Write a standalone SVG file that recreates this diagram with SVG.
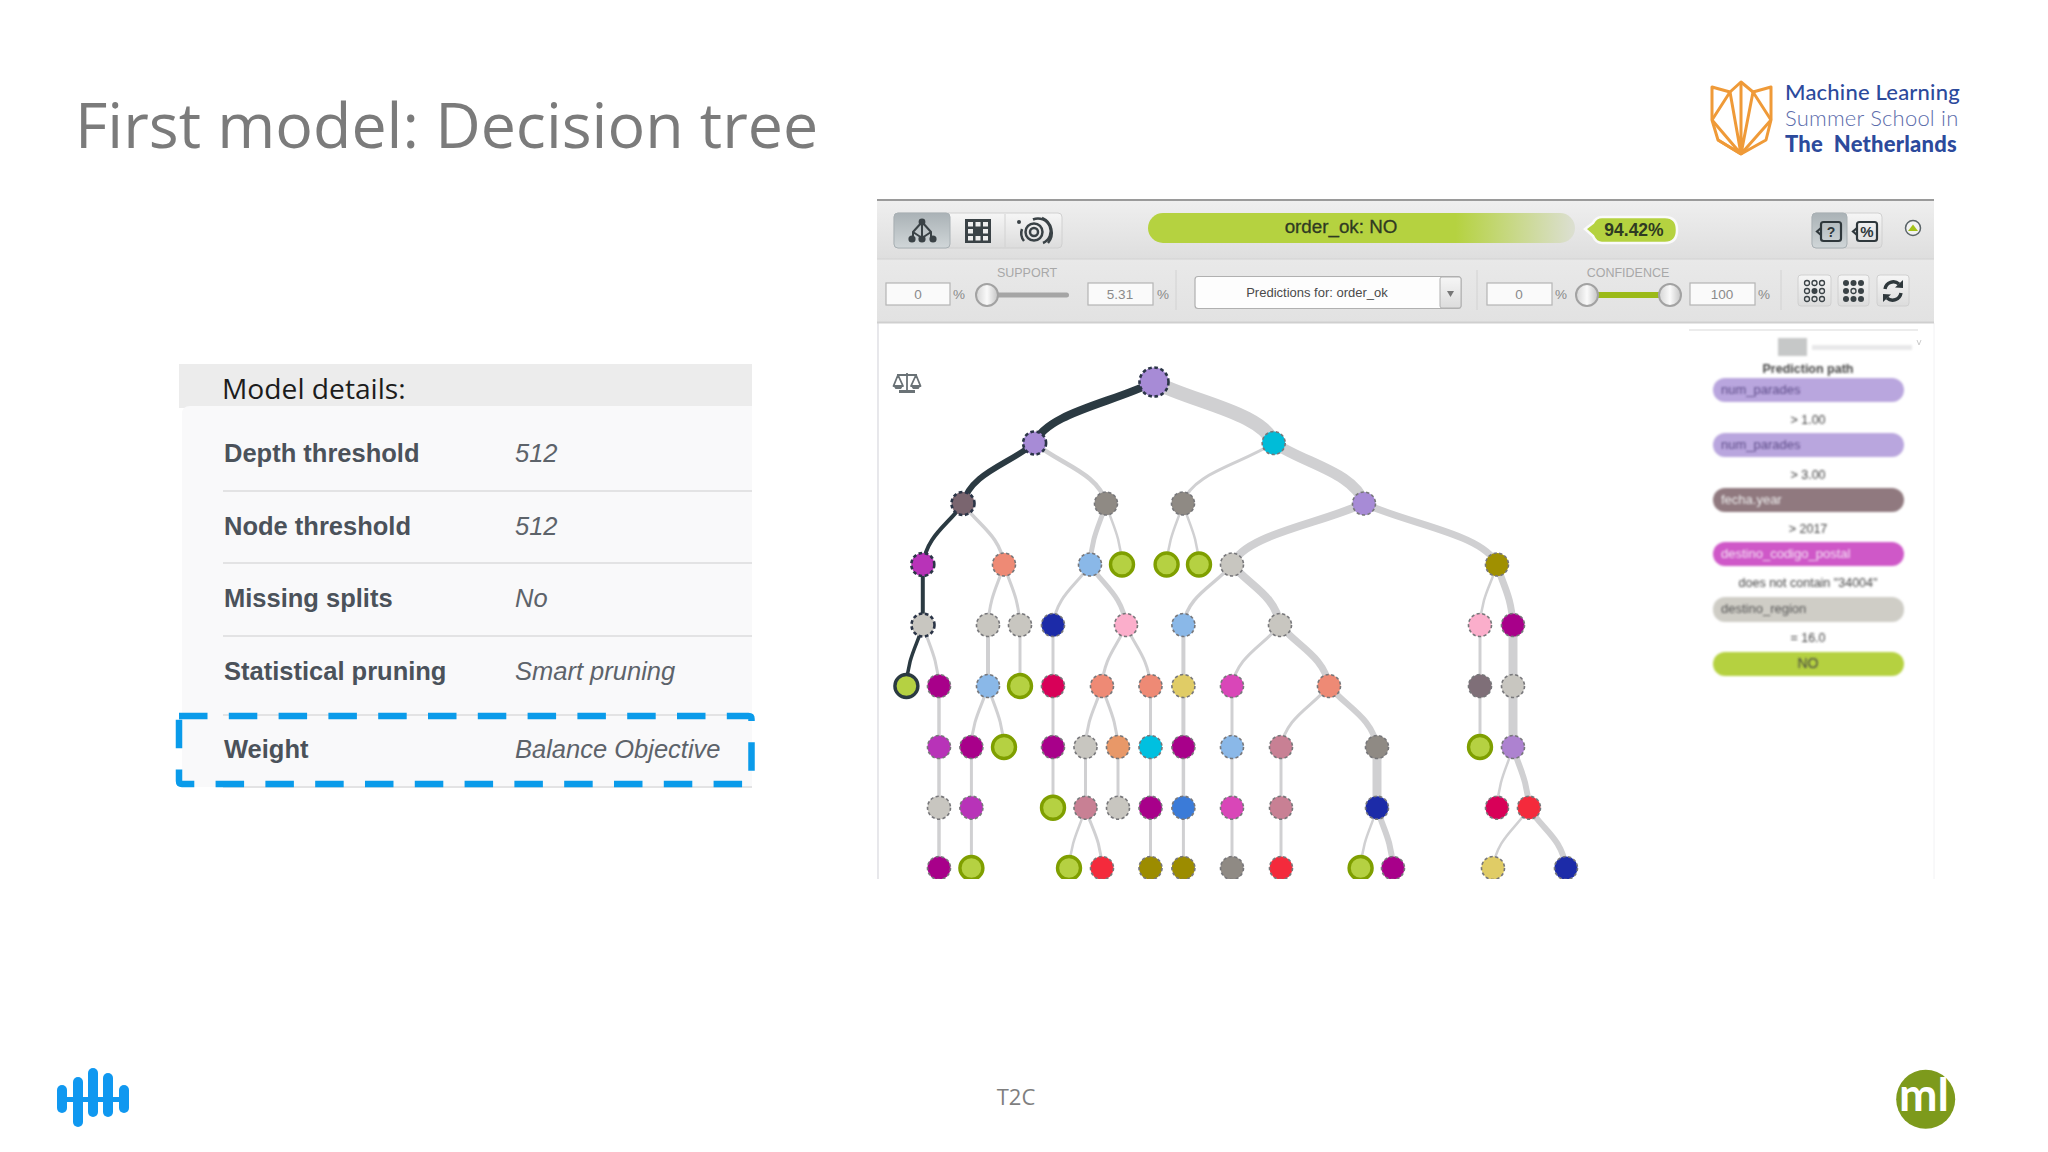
<svg xmlns="http://www.w3.org/2000/svg" width="2048" height="1152" viewBox="0 0 2048 1152">
<style>
.os{font-family:"Open Sans","Noto Sans",sans-serif}
.ar{font-family:"Liberation Sans",Arial,sans-serif}
.lb{font-family:Lato,"Noto Sans",sans-serif}
.rk{font-size:25.5px;font-weight:bold;fill:#4b525a}
.rv{font-size:25.5px;font-style:italic;fill:#5d636a}
.sep{stroke:#e3e3e4;stroke-width:2}
.inp{fill:#fafafa;stroke:#b4b4b4;stroke-width:1.2}
.tl{font-size:12.5px;fill:#a8a8a8;text-anchor:middle}
.ti{font-size:13.5px;fill:#8a8a8a;text-anchor:middle}
.dv{stroke:#d2d2d2;stroke-width:1}
.btn{fill:url(#btn);stroke:#d0d0d0;stroke-width:1}
.on{fill:url(#btnon);stroke:#a8b0b4;stroke-width:1}
.knob{fill:url(#knob);stroke:#a2a2a2;stroke-width:2}
.ic{fill:#3a4246}
.ico{fill:none;stroke:#3a4246;stroke-width:2.5}
.e{fill:none;stroke:#d0d0d2}
.d{fill:none;stroke:#2b3a42}
.n{stroke:#77777a;stroke-width:1.6;stroke-dasharray:3.2 2.4}
.s{stroke:#2b3547;stroke-width:2.6;stroke-dasharray:3.6 2.6}
.leaf{fill:#b5d142;stroke:#7f9f00;stroke-width:3.4}
.bt{font-size:12.5px;fill:#444;text-anchor:middle}
.bp{font-size:13px}
</style>
<defs>
<linearGradient id="tb1" x1="0" y1="0" x2="0" y2="1"><stop offset="0" stop-color="#efefef"/><stop offset="1" stop-color="#dedede"/></linearGradient>
<linearGradient id="tb2" x1="0" y1="0" x2="0" y2="1"><stop offset="0" stop-color="#e9e9e9"/><stop offset="1" stop-color="#e2e2e2"/></linearGradient>
<linearGradient id="btn" x1="0" y1="0" x2="0" y2="1"><stop offset="0" stop-color="#f6f6f6"/><stop offset="1" stop-color="#dcdcdc"/></linearGradient>
<linearGradient id="btnon" x1="0" y1="0" x2="0" y2="1"><stop offset="0" stop-color="#aab2b6"/><stop offset="1" stop-color="#d0d6d8"/></linearGradient>
<linearGradient id="knob" x1="0" y1="0" x2="1" y2="0"><stop offset="0" stop-color="#d4d4d4"/><stop offset=".5" stop-color="#fafafa"/><stop offset="1" stop-color="#c4c4c4"/></linearGradient>
<linearGradient id="bar" x1="0" y1="0" x2="1" y2="0"><stop offset="0" stop-color="#b5d240"/><stop offset=".72" stop-color="#b5d240"/><stop offset="1" stop-color="#dcdfd2"/></linearGradient>
<filter id="blur" x="-10%" y="-30%" width="120%" height="160%"><feGaussianBlur stdDeviation="1.1"/></filter>
<filter id="blurt" x="-10%" y="-50%" width="120%" height="200%"><feGaussianBlur stdDeviation="1"/></filter>
<clipPath id="tc"><rect x="878" y="323" width="1056" height="556"/></clipPath>
</defs>
<rect width="2048" height="1152" fill="#fff"/>

<text id="title" class="os" x="75" y="148" font-size="62.7" fill="#7b7b7b">First model: Decision tree</text>

<g id="mlss-logo">
<g fill="none" stroke="#ef9a38" stroke-width="3" stroke-linejoin="round">
<path d="M1712 87L1730 92L1741 82L1753 92L1771 87V120L1766 140L1741 154L1718 140L1712 120Z"/>
<path d="M1741 82V154M1730 92L1741 154M1753 92L1741 154M1712 120L1730 92M1771 120L1753 92M1712 120L1741 154M1771 120L1741 154M1718 140L1741 154"/>
</g>
<text class="lb" x="1785" y="100" font-size="22" font-weight="500" letter-spacing=".2" fill="#2c4a9c">Machine Learning</text>
<text class="lb" x="1785" y="126" font-size="22" font-weight="300" letter-spacing=".2" fill="#5b6cab">Summer School in</text>
<text class="lb" x="1785" y="152" font-size="22" font-weight="900" letter-spacing=".2" fill="#2c4a9c" xml:space="preserve">The  Netherlands</text>
</g>

<g id="model-details">
<rect x="179" y="364" width="573" height="44" fill="#ececec"/>
<path d="M752 406H190Q182 406 182 414V787H752Z" fill="#f9f9fa"/>
<text class="os" x="222" y="399" font-size="28.2" fill="#1c1c1c">Model details:</text>
<line class="sep" x1="223" y1="491" x2="752" y2="491"/>
<line class="sep" x1="223" y1="563" x2="752" y2="563"/>
<line class="sep" x1="223" y1="636" x2="752" y2="636"/>
<line class="sep" x1="223" y1="715" x2="752" y2="715"/>
<line class="sep" x1="223" y1="787" x2="752" y2="787"/>
<text class="ar rk" x="224" y="462">Depth threshold</text><text class="ar rv" x="515" y="462">512</text>
<text class="ar rk" x="224" y="535">Node threshold</text><text class="ar rv" x="515" y="535">512</text>
<text class="ar rk" x="224" y="607">Missing splits</text><text class="ar rv" x="515" y="607">No</text>
<text class="ar rk" x="224" y="680">Statistical pruning</text><text class="ar rv" x="515" y="680">Smart pruning</text>
<text class="ar rk" x="224" y="758">Weight</text><text class="ar rv" x="515" y="758">Balance Objective</text>
</g>
<path id="highlight" d="M179 716H748.500Q751.500 716 751.500 719V781Q751.500 784 748.500 784H182Q179 784 179 781V716" fill="none" stroke="#0a9bea" stroke-width="6.500" stroke-dasharray="28.500 21.300"/>

<g id="app-frame">
<line x1="878" y1="323" x2="878" y2="879" stroke="#e2e2e6" stroke-width="1.600"/>
<line x1="1934" y1="323" x2="1934" y2="879" stroke="#f2f2f4" stroke-width="1"/>
<rect x="877" y="200" width="1057" height="59" fill="url(#tb1)"/>
<rect x="877" y="259" width="1057" height="63" fill="url(#tb2)"/>
<line x1="877" y1="200" x2="1934" y2="200" stroke="#9a9a9a" stroke-width="2"/>
<line x1="877" y1="259" x2="1934" y2="259" stroke="#d2d2d2" stroke-width="1"/>
<line x1="877" y1="322.500" x2="1934" y2="322.500" stroke="#cfcfcf" stroke-width="2"/>
</g>

<g id="view-buttons">
<rect class="btn" x="894" y="213" width="168" height="35" rx="4"/>
<rect class="on" x="894" y="213" width="56" height="35" rx="4"/>
<line class="dv" x1="1005" y1="214" x2="1005" y2="247"/>
<path d="M922 222L913 232V238M922 222L931 232V238M922 222V238M913 232L922 238M931 232L922 238" fill="none" stroke="#3a4246" stroke-width="2"/>
<circle class="ic" cx="922" cy="222" r="3.400"/><circle class="ic" cx="912" cy="239" r="3.600"/><circle class="ic" cx="922" cy="239" r="3.600"/><circle class="ic" cx="933" cy="239" r="3.600"/>
<path class="ic" d="M965 219H991V243H965Z"/>
<g fill="#eee"><rect x="968" y="222" width="5" height="4.500"/><rect x="975.500" y="222" width="5" height="4.500"/><rect x="983" y="222" width="5" height="4.500"/><rect x="968" y="229" width="5" height="4.500"/><rect x="983" y="229" width="5" height="4.500"/><rect x="968" y="236" width="5" height="4.500"/><rect x="975.500" y="236" width="5" height="4.500"/><rect x="983" y="236" width="5" height="4.500"/></g>
<circle class="ico" cx="1034" cy="232" r="4"/><circle class="ico" cx="1034" cy="232" r="8.500"/>
<path class="ico" d="M1033 219.500A12.500 12.500 0 0 1 1043 243M1024 241A12.500 12.500 0 0 1 1022 229"/>
<path class="ico" d="M1042 218A16 16 0 0 1 1048 243"/>
<circle class="ic" cx="1019" cy="222" r="2"/>
</g>

<g id="prediction-bar">
<rect x="1148" y="213" width="427" height="30" rx="15" fill="url(#bar)"/>
<text class="ar" x="1341" y="233" font-size="18.800" fill="#2f3a22" stroke="#2f3a22" stroke-width=".3" text-anchor="middle">order_ok: NO</text>
<path d="M1585 229L1593 223Q1596 217 1602 217H1665Q1677 217 1677 230Q1677 243 1665 243H1602Q1596 243 1593 236Z" fill="#b5d240" stroke="#fafafa" stroke-width="2.500"/>
<text class="ar" x="1634" y="236" font-size="17.500" font-weight="bold" fill="#2f3a22" text-anchor="middle">94.42%</text>
</g>

<g id="format-buttons">
<rect class="btn" x="1812" y="213" width="70" height="35" rx="4"/>
<rect class="on" x="1812" y="213" width="35" height="35" rx="4"/>
<rect x="1821" y="222" width="20" height="19" rx="2.500" fill="none" stroke="#2f383c" stroke-width="2.200"/>
<path d="M1821 228L1817 231.500L1821 235" fill="none" stroke="#2f383c" stroke-width="2.200"/>
<text class="ar" x="1831" y="237" font-size="14" font-weight="bold" fill="#2f383c" text-anchor="middle">?</text>
<rect x="1857" y="222" width="20" height="19" rx="2.500" fill="none" stroke="#2f383c" stroke-width="2.200"/>
<path d="M1857 228L1853 231.500L1857 235" fill="none" stroke="#2f383c" stroke-width="2.200"/>
<text class="ar" x="1867" y="237" font-size="15" font-weight="bold" fill="#2f383c" text-anchor="middle">%</text>
<circle cx="1913" cy="228" r="7.500" fill="#f2f2f2" stroke="#5a6468" stroke-width="1.500"/>
<path d="M1908 231L1913 224.500L1918 231Z" fill="#a4c21a"/>
</g>

<g id="support-filter">
<text class="ar tl" x="1027" y="277">SUPPORT</text>
<rect class="inp" x="886" y="283" width="64" height="22"/><text class="ar ti" x="918" y="299">0</text>
<text class="ar ti" x="959" y="299">%</text>
<rect x="985" y="292.500" width="84" height="5" rx="2.500" fill="#a5a5a5"/>
<circle class="knob" cx="987" cy="295" r="11"/>
<rect class="inp" x="1088" y="283" width="65" height="22"/><text class="ar ti" x="1120" y="299">5.31</text>
<text class="ar ti" x="1163" y="299">%</text>
<line class="dv" x1="1176" y1="270" x2="1176" y2="310"/>
</g>

<g id="predictions-select">
<rect x="1195" y="276.500" width="266" height="32" rx="3" fill="#fdfdfd" stroke="#b0b0b0" stroke-width="1.200"/>
<rect x="1440" y="277" width="21" height="31" rx="2" fill="url(#btn)" stroke="#b0b0b0" stroke-width="1"/>
<path d="M1447 291H1454L1450.500 297Z" fill="#777"/>
<text class="ar" x="1317" y="297" font-size="13" fill="#4a4a4a" text-anchor="middle">Predictions for: order_ok</text>
</g>

<g id="confidence-filter">
<line class="dv" x1="1477" y1="270" x2="1477" y2="310"/>
<text class="ar tl" x="1628" y="277">CONFIDENCE</text>
<rect class="inp" x="1487" y="283" width="65" height="22"/><text class="ar ti" x="1519" y="299">0</text>
<text class="ar ti" x="1561" y="299">%</text>
<rect x="1590" y="292" width="78" height="6" fill="#9bba18"/>
<circle class="knob" cx="1587" cy="295" r="11"/>
<circle class="knob" cx="1670" cy="295" r="11"/>
<rect class="inp" x="1690" y="283" width="65" height="22"/><text class="ar ti" x="1722" y="299">100</text>
<text class="ar ti" x="1764" y="299">%</text>
<line class="dv" x1="1781" y1="270" x2="1781" y2="310"/>
</g>

<g id="tool-buttons">
<rect class="btn" x="1798" y="275" width="33" height="31" rx="3"/>
<rect class="btn" x="1838" y="275" width="31" height="31" rx="3"/>
<rect class="btn" x="1877" y="275" width="32" height="31" rx="3"/>
<g fill="none" stroke="#3a4246" stroke-width="1.300"><circle cx="1807" cy="283" r="2.500"/><circle cx="1814.500" cy="283" r="2.500"/><circle cx="1822" cy="283" r="2.500"/><circle cx="1807" cy="291" r="2.500"/><circle cx="1822" cy="291" r="2.500"/><circle cx="1807" cy="299" r="2.500"/><circle cx="1814.500" cy="299" r="2.500"/><circle cx="1822" cy="299" r="2.500"/></g>
<circle class="ic" cx="1814.500" cy="291" r="3"/>
<g class="ic"><circle cx="1846" cy="283" r="3"/><circle cx="1853.500" cy="283" r="3"/><circle cx="1861" cy="283" r="3"/><circle cx="1846" cy="291" r="3"/><circle cx="1861" cy="291" r="3"/><circle cx="1846" cy="299" r="3"/><circle cx="1853.500" cy="299" r="3"/><circle cx="1861" cy="299" r="3"/></g>
<circle cx="1853.500" cy="291" r="2.500" fill="none" stroke="#3a4246" stroke-width="1.300"/>
<path d="M1885 289A8.500 8.500 0 0 1 1899 284M1901 293A8.500 8.500 0 0 1 1887 298" fill="none" stroke="#2f383c" stroke-width="3.400"/>
<path d="M1895 287.500L1903 288V280ZM1891 294.500L1883 294V302Z" fill="#2f383c"/>
</g>

<g id="balance-icon" fill="none" stroke="#6a7276" stroke-width="1.800">
<path d="M907 373V390M897 375H917M898 375L893.500 386H903ZM916 375L911 386H920.500Z" stroke-linejoin="round"/>
<path d="M893.500 386H903L901 389H895.500ZM911 386H920.500L918.500 389H913ZM899 390H915V393H899Z" fill="#6a7276" stroke="none"/>
</g>

<g id="prediction-path">
<line x1="1689" y1="330" x2="1918" y2="330" stroke="#e6e6e6" stroke-width="1.500"/>
<rect x="1778" y="338" width="29" height="18" fill="#c6c8c8" filter="url(#blurt)"/>
<rect x="1812" y="345" width="100" height="5" fill="#e8e8ea" filter="url(#blur)"/>
<path d="M1917 340L1919 345L1921 340" fill="none" stroke="#ccc" stroke-width="1"/>
<g filter="url(#blur)">
<rect x="1713" y="378" width="191" height="24" rx="12" fill="#b9a6de"/>
<rect x="1713" y="433" width="191" height="24" rx="12" fill="#b9a6de"/>
<rect x="1713" y="488" width="191" height="24" rx="12" fill="#90797f"/>
<rect x="1713" y="542" width="191" height="24" rx="12" fill="#cf58c8"/>
<rect x="1713" y="597" width="191" height="25" rx="12" fill="#cfcdc6"/>
<rect x="1713" y="652" width="191" height="24" rx="12" fill="#b5d140"/>
</g>
<g class="ar" filter="url(#blurt)">
<text class="bt" x="1808" y="373" font-weight="bold">Prediction path</text>
<text class="bp" x="1721" y="394" fill="#5d4c88">num_parades</text>
<text class="bt" x="1808" y="424">&gt; 1.00</text>
<text class="bp" x="1721" y="449" fill="#5d4c88">num_parades</text>
<text class="bt" x="1808" y="479">&gt; 3.00</text>
<text class="bp" x="1721" y="504" fill="#eee">fecha.year</text>
<text class="bt" x="1808" y="533">&gt; 2017</text>
<text class="bp" x="1721" y="558" fill="#f6e6f6">destino_codigo_postal</text>
<text class="bt" x="1808" y="587">does not contain "34004"</text>
<text class="bp" x="1721" y="613" fill="#555">destino_region</text>
<text class="bt" x="1808" y="642">= 16.0</text>
<text class="bt" x="1808" y="668" style="font-size:14px">NO</text>
</g>
</g>

<g id="connectors" clip-path="url(#tc)">
<g class="e">
<path stroke-width="14" d="M1154 382c42 21 108 31 119.700 61"/>
<path stroke-width="4.500" d="M1034.600 443c25 21 64 30 71.400 60"/>
<path stroke-width="3" d="M1273.700 443c-32 21-82 30-90.700 60"/>
<path stroke-width="11" d="M1273.700 443c32 21 81 30 90.300 60"/>
<path stroke-width="3.500" d="M963 503.500c14 21 37 31 41 61"/>
<path stroke-width="5" d="M1106 503.500c-6 21-14 31-16 61"/>
<path stroke-width="2.500" d="M1106 503.500c6 21 14 31 16 61"/>
<path stroke-width="2.500" d="M1183 503.500c-6 21-14 31-16.400 61"/>
<path stroke-width="2.500" d="M1183 503.500c6 21 14 31 16 61"/>
<path stroke-width="8" d="M1364 503.500c-46 21-119 31-132 61"/>
<path stroke-width="7" d="M1364 503.500c46 21 120 31 133 61"/>
<path stroke-width="3" d="M1004 564.500c-6 21-14 30-16 60.500"/>
<path stroke-width="3" d="M1004 564.500c6 21 14 30 16 60.500"/>
<path stroke-width="3" d="M1090 564.500c-13 21-33 30-37 60.500"/>
<path stroke-width="5" d="M1090 564.500c13 21 32 30 36 60.500"/>
<path stroke-width="3.500" d="M1232 564.500c-17 21-44 30-49 60.500"/>
<path stroke-width="8" d="M1232 564.500c17 21 43 30 48 60.500"/>
<path stroke-width="2.500" d="M1497 564.500c-6 21-15 30-17 60.500"/>
<path stroke-width="7" d="M1497 564.500c6 21 14 30 16 60.500"/>
<path stroke-width="3" d="M923 625c6 21 14 31 16 61"/>
<path stroke-width="4" d="M988 625V686"/>
<path stroke-width="3" d="M1020 625V686"/>
<path stroke-width="3" d="M1053 625V686"/>
<path stroke-width="3" d="M1126 625c-8 21-22 31-24 61"/>
<path stroke-width="3" d="M1126 625c8 21 22 31 24.500 61"/>
<path stroke-width="4" d="M1183.400 625V686"/>
<path stroke-width="3" d="M1280 625c-17 21-43 31-48 61"/>
<path stroke-width="7" d="M1280 625c17 21 44 31 49 61"/>
<path stroke-width="3" d="M1480 625V686"/>
<path stroke-width="9" d="M1513 625V686"/>
<path stroke-width="3.500" d="M939 686V747"/>
<path stroke-width="3" d="M988 686c-6 21-15 31-17 61"/>
<path stroke-width="3" d="M988 686c6 21 14 31 16 61"/>
<path stroke-width="3" d="M1053 686V747"/>
<path stroke-width="3" d="M1102 686c-6 21-15 31-16.500 61"/>
<path stroke-width="3" d="M1102 686c6 21 14 31 16 61"/>
<path stroke-width="3" d="M1150.500 686V747"/>
<path stroke-width="4" d="M1183.400 686V747"/>
<path stroke-width="3" d="M1232 686V747"/>
<path stroke-width="3" d="M1329 686c-17 21-43 31-48 61"/>
<path stroke-width="6" d="M1329 686c17 21 43 31 48 61"/>
<path stroke-width="3" d="M1480 686V747"/>
<path stroke-width="9" d="M1513 686V747"/>
<path stroke-width="3.500" d="M939 747V808"/>
<path stroke-width="3" d="M971.400 747V808"/>
<path stroke-width="3" d="M1053 747V808"/>
<path stroke-width="3" d="M1085.500 747V808"/>
<path stroke-width="3" d="M1118 747V808"/>
<path stroke-width="3" d="M1150.500 747V808"/>
<path stroke-width="3.500" d="M1183.400 747V808"/>
<path stroke-width="3" d="M1232 747V808"/>
<path stroke-width="3" d="M1281 747V808"/>
<path stroke-width="9" d="M1377 747V808"/>
<path stroke-width="2.500" d="M1513 747c-6 21-14 31-16 61"/>
<path stroke-width="6" d="M1513 747c6 21 14 31 16 61"/>
<path stroke-width="3.500" d="M939 808V868"/>
<path stroke-width="3" d="M971.400 808V868"/>
<path stroke-width="2.500" d="M1085.500 808c-6 21-14 30-16.500 60"/>
<path stroke-width="3" d="M1085.500 808c6 21 15 30 16.500 60"/>
<path stroke-width="3" d="M1150.500 808V868"/>
<path stroke-width="3" d="M1183.400 808V868"/>
<path stroke-width="3" d="M1232 808V868"/>
<path stroke-width="3" d="M1281 808V868"/>
<path stroke-width="2.500" d="M1377 808c-6 21-14 30-16.400 60"/>
<path stroke-width="6" d="M1377 808c6 21 14 30 16 60"/>
<path stroke-width="2.500" d="M1529 808c-13 21-32 30-36 60"/>
<path stroke-width="6" d="M1529 808c13 21 33 30 37 60"/>
</g>
<g class="d">
<path stroke-width="8" d="M1154 382c-42 21-107 31-119.400 61"/>
<path stroke-width="6" d="M1034.600 443c-25 21-64 30-71.600 60.500"/>
<path stroke-width="4" d="M963 503.500c-14 21-36 31-40 61"/>
<path stroke-width="4" d="M922.800 564.500V625"/>
<path stroke-width="3.500" d="M923 625c-6 21-15 31-16.600 61"/>
</g>
</g>

<g id="tree-nodes" clip-path="url(#tc)">
<g id="n1"><circle class="s" cx="1154" cy="382" r="14.500" fill="#a78bd6"/></g>
<g id="n2"><circle class="s" cx="1034.600" cy="443" r="11.500" fill="#a78bd6"/></g>
<g id="n3"><circle class="n" cx="1273.700" cy="443" r="11.500" fill="#00bcd8"/></g>
<g id="n4"><circle class="s" cx="963" cy="503.500" r="11.500" fill="#7a656f"/></g>
<g id="n5"><circle class="n" cx="1106" cy="503.500" r="11.500" fill="#8f8a84"/></g>
<g id="n6"><circle class="n" cx="1183" cy="503.500" r="11.500" fill="#8f8a84"/></g>
<g id="n7"><circle class="n" cx="1364" cy="503.500" r="11.500" fill="#a78bd6"/></g>
<g id="n8"><circle class="s" cx="922.800" cy="564.500" r="11.500" fill="#b833b8"/></g>
<g id="n9"><circle class="n" cx="1004" cy="564.500" r="11.500" fill="#ee8a75"/></g>
<g id="n10"><circle class="n" cx="1090" cy="564.500" r="11.500" fill="#8ab8e8"/></g>
<g id="n11"><circle class="leaf" cx="1122" cy="564.500" r="11.500"/></g>
<g id="n12"><circle class="leaf" cx="1166.600" cy="564.500" r="11.500"/></g>
<g id="n13"><circle class="leaf" cx="1199" cy="564.500" r="11.500"/></g>
<g id="n14"><circle class="n" cx="1232" cy="564.500" r="11.500" fill="#c8c6c0"/></g>
<g id="n15"><circle class="n" cx="1497" cy="564.500" r="11.500" fill="#a09000"/></g>
<g id="n16"><circle class="s" cx="923" cy="625" r="11.500" fill="#c8c6c0"/></g>
<g id="n17"><circle class="n" cx="988" cy="625" r="11.500" fill="#c8c6c0"/></g>
<g id="n18"><circle class="n" cx="1020" cy="625" r="11.500" fill="#c8c6c0"/></g>
<g id="n19"><circle class="n" cx="1053" cy="625" r="11.500" fill="#1c2ba8"/></g>
<g id="n20"><circle class="n" cx="1126" cy="625" r="11.500" fill="#fbaecb"/></g>
<g id="n21"><circle class="n" cx="1183.400" cy="625" r="11.500" fill="#8ab8e8"/></g>
<g id="n22"><circle class="n" cx="1280" cy="625" r="11.500" fill="#c8c6c0"/></g>
<g id="n23"><circle class="n" cx="1480" cy="625" r="11.500" fill="#fbaecb"/></g>
<g id="n24"><circle class="n" cx="1513" cy="625" r="11.500" fill="#a8008a"/></g>
<g id="n25"><circle cx="906.400" cy="686" r="11.500" fill="#b5d142" stroke="#2b3a42" stroke-width="3.400"/></g>
<g id="n26"><circle class="n" cx="939" cy="686" r="11.500" fill="#a8008a"/></g>
<g id="n27"><circle class="n" cx="988" cy="686" r="11.500" fill="#8ab8e8"/></g>
<g id="n28"><circle class="leaf" cx="1020" cy="686" r="11.500"/></g>
<g id="n29"><circle class="n" cx="1053" cy="686" r="11.500" fill="#d80058"/></g>
<g id="n30"><circle class="n" cx="1102" cy="686" r="11.500" fill="#ee8a75"/></g>
<g id="n31"><circle class="n" cx="1150.500" cy="686" r="11.500" fill="#ee8a75"/></g>
<g id="n32"><circle class="n" cx="1183.400" cy="686" r="11.500" fill="#e0cc66"/></g>
<g id="n33"><circle class="n" cx="1232" cy="686" r="11.500" fill="#d946b8"/></g>
<g id="n34"><circle class="n" cx="1329" cy="686" r="11.500" fill="#ee8a75"/></g>
<g id="n35"><circle class="n" cx="1480" cy="686" r="11.500" fill="#7f6f78"/></g>
<g id="n36"><circle class="n" cx="1513" cy="686" r="11.500" fill="#c8c6c0"/></g>
<g id="n37"><circle class="n" cx="939" cy="747" r="11.500" fill="#b833b8"/></g>
<g id="n38"><circle class="n" cx="971.400" cy="747" r="11.500" fill="#a8008a"/></g>
<g id="n39"><circle class="leaf" cx="1004" cy="747" r="11.500"/></g>
<g id="n40"><circle class="n" cx="1053" cy="747" r="11.500" fill="#a8008a"/></g>
<g id="n41"><circle class="n" cx="1085.500" cy="747" r="11.500" fill="#c8c6c0"/></g>
<g id="n42"><circle class="n" cx="1118" cy="747" r="11.500" fill="#e89868"/></g>
<g id="n43"><circle class="n" cx="1150.500" cy="747" r="11.500" fill="#00c0e0"/></g>
<g id="n44"><circle class="n" cx="1183.400" cy="747" r="11.500" fill="#a8008a"/></g>
<g id="n45"><circle class="n" cx="1232" cy="747" r="11.500" fill="#8ab8e8"/></g>
<g id="n46"><circle class="n" cx="1281" cy="747" r="11.500" fill="#c88094"/></g>
<g id="n47"><circle class="n" cx="1377" cy="747" r="11.500" fill="#8f8a84"/></g>
<g id="n48"><circle class="leaf" cx="1480" cy="747" r="11.500"/></g>
<g id="n49"><circle class="n" cx="1513" cy="747" r="11.500" fill="#ad82d0"/></g>
<g id="n50"><circle class="n" cx="939" cy="807.700" r="11.500" fill="#c8c6c0"/></g>
<g id="n51"><circle class="n" cx="971.400" cy="807.700" r="11.500" fill="#b833b8"/></g>
<g id="n52"><circle class="leaf" cx="1053" cy="807.700" r="11.500"/></g>
<g id="n53"><circle class="n" cx="1085.500" cy="807.700" r="11.500" fill="#c88094"/></g>
<g id="n54"><circle class="n" cx="1118" cy="807.700" r="11.500" fill="#c8c6c0"/></g>
<g id="n55"><circle class="n" cx="1150.500" cy="807.700" r="11.500" fill="#a8008a"/></g>
<g id="n56"><circle class="n" cx="1183.400" cy="807.700" r="11.500" fill="#3b7bd8"/></g>
<g id="n57"><circle class="n" cx="1232" cy="807.700" r="11.500" fill="#d946b8"/></g>
<g id="n58"><circle class="n" cx="1281" cy="807.700" r="11.500" fill="#c88094"/></g>
<g id="n59"><circle class="n" cx="1377" cy="807.700" r="11.500" fill="#1c2ba8"/></g>
<g id="n60"><circle class="n" cx="1497" cy="807.700" r="11.500" fill="#d80058"/></g>
<g id="n61"><circle class="n" cx="1529" cy="807.700" r="11.500" fill="#f42a3c"/></g>
<g id="n62"><circle class="n" cx="939" cy="868" r="11.500" fill="#a8008a"/></g>
<g id="n63"><circle class="leaf" cx="971.400" cy="868" r="11.500"/></g>
<g id="n64"><circle class="leaf" cx="1069" cy="868" r="11.500"/></g>
<g id="n65"><circle class="n" cx="1102" cy="868" r="11.500" fill="#f42a3c"/></g>
<g id="n66"><circle class="n" cx="1150.500" cy="868" r="11.500" fill="#9c8c00"/></g>
<g id="n67"><circle class="n" cx="1183.400" cy="868" r="11.500" fill="#9c8c00"/></g>
<g id="n68"><circle class="n" cx="1232" cy="868" r="11.500" fill="#8f8a84"/></g>
<g id="n69"><circle class="n" cx="1281" cy="868" r="11.500" fill="#f42a3c"/></g>
<g id="n70"><circle class="leaf" cx="1360.600" cy="868" r="11.500"/></g>
<g id="n71"><circle class="n" cx="1393" cy="868" r="11.500" fill="#a8008a"/></g>
<g id="n72"><circle class="n" cx="1493" cy="868" r="11.500" fill="#e0cc66"/></g>
<g id="n73"><circle class="n" cx="1566" cy="868" r="11.500" fill="#1c2ba8"/></g>
</g>

<g id="t2c-logo" fill="#1098f0">
<rect x="57" y="1085" width="10" height="28" rx="5"/>
<rect x="73" y="1077" width="10" height="50" rx="5"/>
<rect x="88" y="1068" width="10" height="49" rx="5"/>
<rect x="103" y="1073" width="10" height="44" rx="5"/>
<rect x="119" y="1085" width="10" height="28" rx="5"/>
<rect x="60" y="1097" width="66" height="5"/>
</g>
<text id="footer" class="os" x="1016" y="1105" font-size="22" fill="#7f7f7f" text-anchor="middle">T2C</text>
<g id="ml-logo">
<circle cx="1925.700" cy="1099.300" r="29.500" fill="#7d9a1c"/>
<text class="lb" x="1899" y="1111" font-size="46" font-weight="700" fill="#fff">ml</text>
</g>
</svg>
